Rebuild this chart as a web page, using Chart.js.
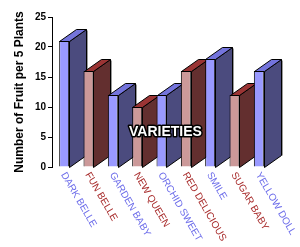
<!DOCTYPE html>
<html>
<head>
<meta charset="utf-8">
<script src="https://cdn.jsdelivr.net/npm/chart.js@4.4.0/dist/chart.umd.min.js"></script>
<style>
  html, body { margin: 0; padding: 0; background: #fff; }
  #wrap { width: 300px; height: 247px; }
</style>
</head>
<body>
<div id="wrap"><canvas id="fruitChart" width="300" height="247"></canvas></div>
<script>
const varieties = ['DARK BELLE', 'FUN BELLE', 'GARDEN BABY', 'NEW QUEEN', 'ORCHID SWEET',
                   'RED DELICIOUS', 'SMILE', 'SUGAR BABY', 'YELLOW DOLL'];
const fruitPer5Plants = [21, 16, 12, 10, 12, 16, 18, 12, 16];
const yTicks = [0, 5, 10, 15, 20, 25];
const yTitle = 'Number of Fruit per 5 Plants';
const xTitle = 'VARIETIES';

const FONT = '"Liberation Sans", Arial, sans-serif';
// blue / red look alternating by bar
const palette = [
  { front: '#9999ff', side: '#4b4b7e', top: '#7474dc', label: '#6d6dea' },
  { front: '#cc9999', side: '#632f2f', top: '#9b3434', label: '#a82c2c' }
];
const depth = { dx: 17, dy: 12 };

const bar3d = {
  id: 'bar3d',
  beforeDatasetsDraw(chart) {
    const ctx = chart.ctx;
    const { dx, dy } = depth;
    chart.getDatasetMeta(0).data.forEach((bar, i) => {
      const c = palette[i % 2];
      const left = Math.round(bar.x - bar.width / 2) + 0.5;
      const right = Math.round(bar.x + bar.width / 2) + 0.5;
      const top = Math.round(bar.y) + 0.5;
      const base = Math.round(bar.base) + 0.5;
      ctx.save();
      ctx.lineWidth = 1;
      ctx.lineJoin = 'round';
      // soft shadow on the back edge
      ctx.strokeStyle = '#9a9a9a';
      ctx.beginPath();
      ctx.moveTo(right + dx + 1, top - dy + 1);
      ctx.lineTo(right + dx + 1, base - dy);
      ctx.stroke();
      ctx.strokeStyle = '#000';
      // side face
      ctx.beginPath();
      ctx.moveTo(right, top);
      ctx.lineTo(right + dx, top - dy);
      ctx.lineTo(right + dx, base - dy);
      ctx.lineTo(right, base);
      ctx.closePath();
      ctx.fillStyle = c.side;
      ctx.fill();
      ctx.stroke();
      // top face
      ctx.beginPath();
      ctx.moveTo(left, top);
      ctx.lineTo(left + dx, top - dy);
      ctx.lineTo(right + dx, top - dy);
      ctx.lineTo(right, top);
      ctx.closePath();
      ctx.fillStyle = c.top;
      ctx.fill();
      ctx.stroke();
      ctx.restore();
    });
  },
  afterDraw(chart) {
    const ctx = chart.ctx;
    const xs = chart.scales.x;
    const ys = chart.scales.y;

    // slanted category labels, reading downwards
    ctx.save();
    ctx.font = '10px ' + FONT;
    varieties.forEach((lab, i) => {
      const x = xs.getPixelForValue(i);
      ctx.save();
      ctx.translate(x - 1, xs.top + 6);
      ctx.rotate(Math.PI / 3);
      ctx.textAlign = 'left';
      ctx.textBaseline = 'middle';
      ctx.fillStyle = palette[i % 2].label;
      ctx.fillText(lab, 0, 0);
      ctx.restore();
    });
    ctx.restore();

    // y axis title
    ctx.save();
    ctx.translate(20, (ys.top + ys.bottom) / 2);
    ctx.rotate(-Math.PI / 2);
    ctx.font = 'bold 12px ' + FONT;
    ctx.textAlign = 'center';
    ctx.textBaseline = 'middle';
    ctx.fillStyle = '#000';
    ctx.fillText(yTitle, 0, 0);
    ctx.restore();

    // x axis title sits over the bars
    ctx.save();
    ctx.font = 'bold 14px ' + FONT;
    ctx.textAlign = 'center';
    ctx.textBaseline = 'middle';
    ctx.lineJoin = 'round';
    ctx.lineWidth = 3;
    ctx.strokeStyle = '#000';
    ctx.fillStyle = '#fff';
    const tx = (xs.left + xs.right) / 2 + 4;
    ctx.strokeText(xTitle, tx, 132);
    ctx.fillText(xTitle, tx, 132);
    ctx.restore();
  }
};

const ctx = document.getElementById('fruitChart').getContext('2d');

new Chart(ctx, {
  type: 'bar',
  data: {
    labels: varieties,
    datasets: [{
      data: fruitPer5Plants,
      backgroundColor: varieties.map((v, i) => palette[i % 2].front),
      borderColor: '#000',
      borderWidth: 1,
      barPercentage: 0.41,
      categoryPercentage: 1
    }]
  },
  options: {
    responsive: false,
    animation: false,
    layout: { padding: { top: 17, right: 29, left: 0, bottom: 0 } },
    plugins: {
      legend: { display: false },
      tooltip: { enabled: false }
    },
    scales: {
      x: {
        grid: { display: false },
        border: { display: false },
        ticks: { display: false },
        afterFit(s) { s.height = 80; }
      },
      y: {
        min: 0,
        max: 25,
        afterBuildTicks(s) { s.ticks = yTicks.map(v => ({ value: v })); },
        ticks: { color: '#000', padding: 2, font: { family: FONT, size: 10, weight: 'bold' } },
        grid: { drawOnChartArea: false, tickLength: 4, color: '#000' },
        border: { display: true, color: '#000' },
        afterFit(s) { s.width = 52; }
      }
    }
  },
  plugins: [bar3d]
});
</script>
</body>
</html>
